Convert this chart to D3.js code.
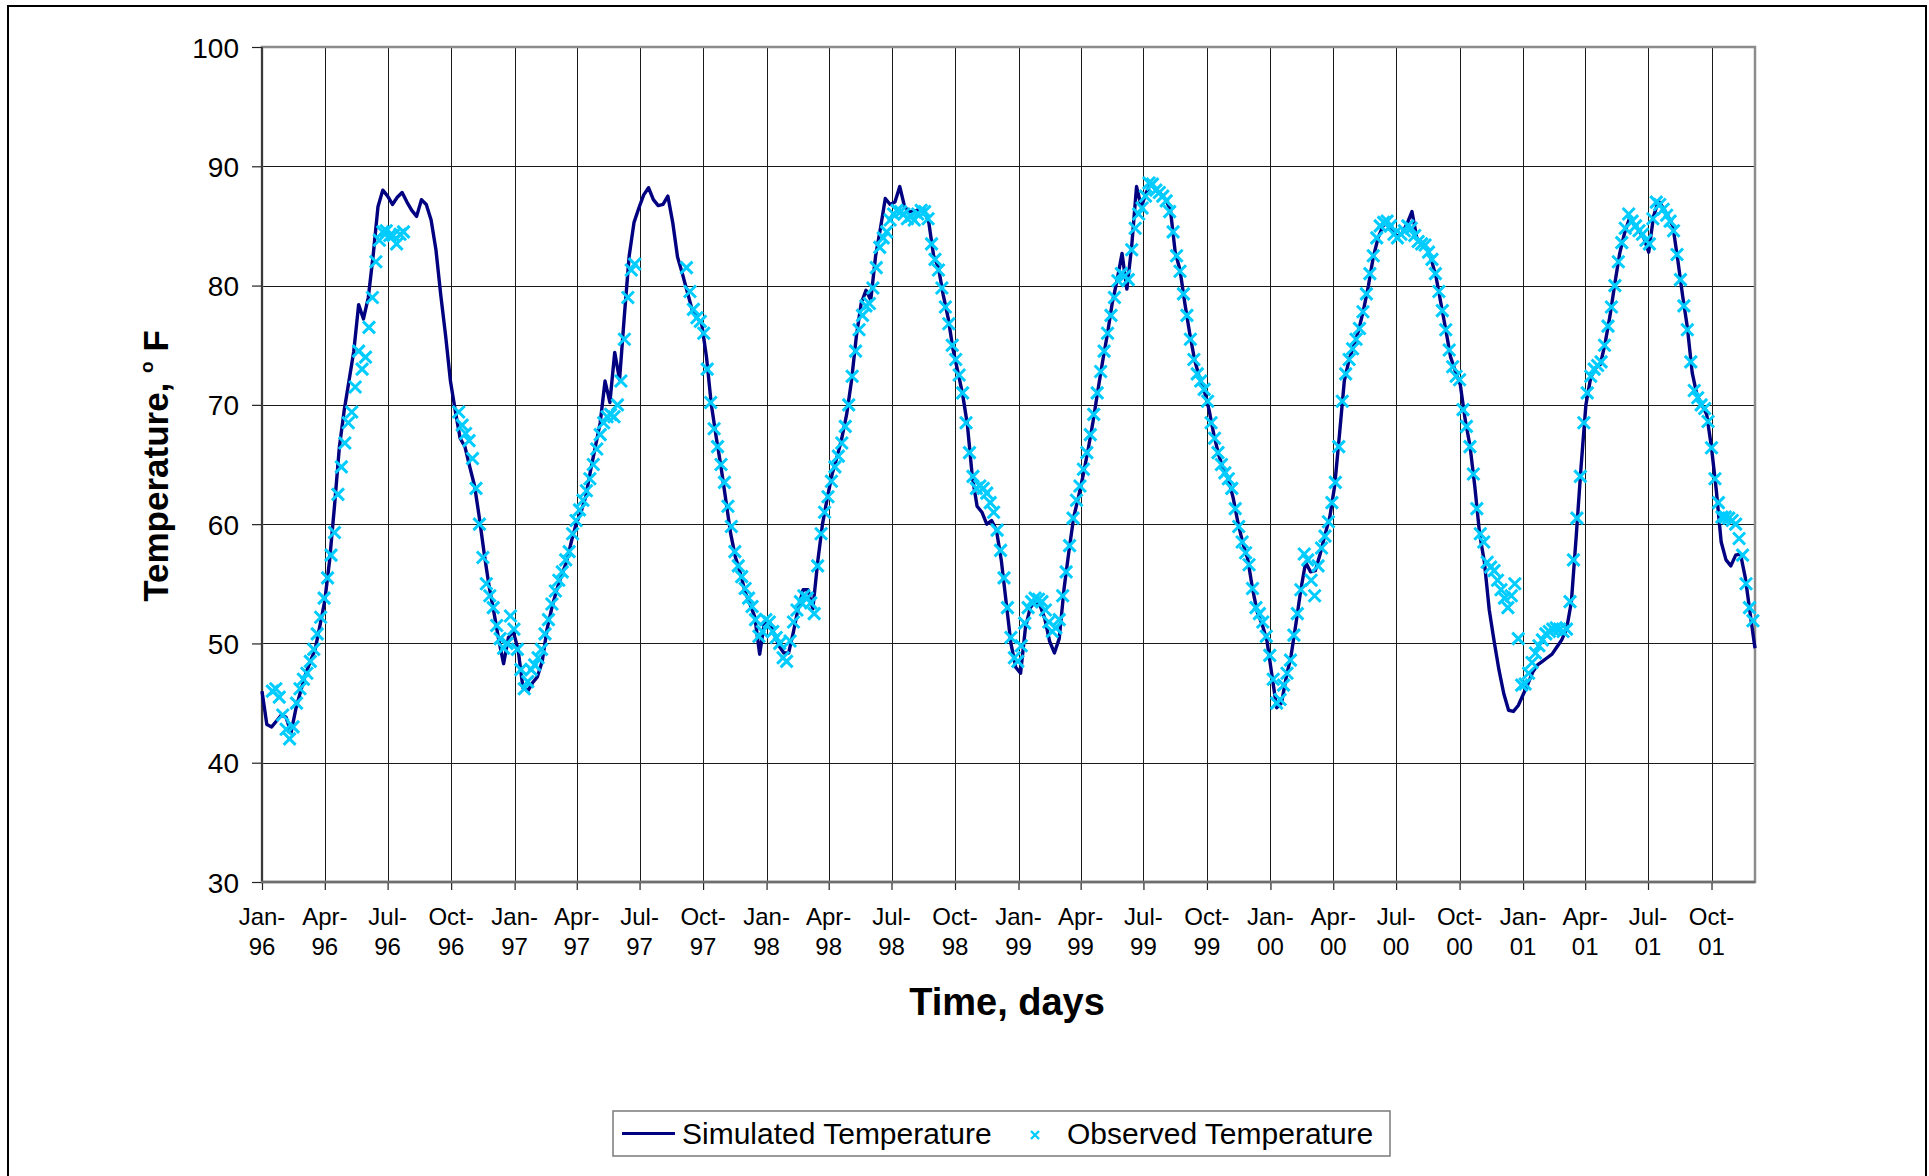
<!DOCTYPE html>
<html><head><meta charset="utf-8">
<script src="https://cdn.jsdelivr.net/npm/d3@7"></script>
<style>
html,body{margin:0;padding:0;background:#fff;overflow:hidden;}
svg{display:block;font-family:"Liberation Sans",Arial,sans-serif;}
</style></head><body>
<svg id="chart" width="1929" height="1176"></svg>
<script>
// ---------------- data ----------------
const startDate = Date.UTC(1996, 0, 1);
const axisEndDay = 2163;               // last day on the time axis (early Dec 2001)
const yTicks = [30, 40, 50, 60, 70, 80, 90, 100];
const monthNames = ["Jan", "Feb", "Mar", "Apr", "May", "Jun", "Jul", "Aug", "Sep", "Oct", "Nov", "Dec"];

// Simulated temperature (°F), one value every 7 days starting 1 Jan 1996
const simStepDays = 7;
const simulated = [
  46, 43.2, 43, 43.5, 44, 43.8, 42.5, 44.5, 46, 47.4,
  48.5, 49.5, 51.5, 53.6, 57, 61.5, 66.4, 69.5, 72, 74.5,
  78.4, 77.2, 79, 82.5, 86.6, 88, 87.5, 86.8, 87.4, 87.8,
  87, 86.3, 85.8, 87.2, 86.8, 85.5, 83, 79.2, 75.8, 72,
  69.5, 67.2, 66.5, 64.8, 63.2, 60.5, 57.5, 54.8, 52.6, 50.3,
  48.3, 50.5, 51, 49.5, 46.3, 46, 46.7, 47.2, 48.5, 51.2,
  53, 54.5, 55.7, 56.8, 58.5, 60, 61, 62.3, 64.5, 66.5,
  68.5, 72, 70.2, 74.4, 72.1, 77.5, 82.5, 85.3, 86.5, 87.6,
  88.2, 87.2, 86.7, 86.8, 87.5, 85.3, 82.4, 81, 79.5, 78,
  77.3, 76.8, 74, 70, 67.3, 64.8, 62, 59.2, 57.2, 55.9,
  54.3, 53.3, 52.2, 49.1, 51.8, 51.8, 50.8, 49.8, 49.2, 49.2,
  51, 53, 54.5, 54.5, 52.9, 56.8, 60, 62.2, 64.2, 65.6,
  67.2, 69.2, 72, 75.7, 78.5, 79.6, 78.8, 82.5, 84.8, 87.3,
  86.8, 87, 88.3, 86.6, 86.2, 86.2, 86.4, 86.4, 85.3, 82.5,
  81.5, 79.2, 77.3, 74.7, 72.8, 70.9, 68.3, 64, 61.5, 61,
  60, 60.3, 59.5, 57, 53.5, 50, 48, 47.5, 51.3, 53,
  53.5, 53.2, 52.1, 50.2, 49.2, 50.4, 54.6, 57.7, 60.6, 62.3,
  64.2, 66.3, 68.6, 71.2, 73.7, 76, 78.6, 80.5, 82.7, 79.7,
  83.3, 88.3, 86.6, 87.8, 88.6, 88, 87.7, 87.2, 86.4, 82.8,
  81.3, 78.5, 76, 73.8, 72.3, 71.2, 69.6, 67.5, 65.8, 64.6,
  63.8, 62.2, 60.1, 58.4, 57.1, 54.6, 52.6, 51.6, 50.2, 47.4,
  44.6, 45, 47.2, 49, 51.7, 54.5, 56.8, 56, 56.1, 57.5,
  59.1, 60.6, 63.2, 67.5, 72, 73.8, 75, 76.3, 78, 80,
  82.4, 84, 85, 85.3, 84.6, 84.1, 84.4, 85.2, 86.2, 84,
  83.5, 83.2, 82.2, 80.7, 78.5, 76.3, 74, 72.8, 71.7, 68.8,
  66.6, 63.2, 59.2, 56.8, 52.8, 50.2, 47.8, 45.8, 44.4, 44.3,
  44.8, 45.7, 46.6, 47.6, 48.2, 48.5, 48.8, 49.1, 49.7, 50.3,
  51.2, 53.5, 59, 64.8, 70, 72.3, 73.1, 73.4, 75.2, 77.5,
  80.2, 82.7, 84.4, 85.6, 85.1, 84.6, 84, 82.8, 85.8, 87.1,
  86.5, 85.8, 85, 82.2, 79.2, 76.5, 72.7, 70.8, 70, 69.2,
  66.4, 62.8, 58.5, 57, 56.5, 57.4, 57.5, 55.5, 52.5, 49.6
];

// Observed temperature (°F), one value every 5 days starting 16 Jan 1996 (null = no data)
const obsStartDay = 15;
const obsStepDays = 5;
const observed = [
  46, 46.2, 45.5, 44, 42.8, 42, 43, 45, 46.2, 47,
  47.5, 48.5, 49.5, 50.8, 52.2, 53.8, 55.5, 57.4, 59.3, 62.5,
  64.8, 66.8, 68.5, 69.4, 71.5, 74.5, 73, 74, 76.5, 79,
  82, 83.8, 84.5, 84.6, 84.2, 84.2, 83.5, 84.3, 84.5, null,
  null, null, null, null, null, null, null, null, null, null,
  null, null, null, null, 69.4, 68.3, 67.6, 67, 65.5, 63,
  60, 57.2, 55, 54, 53, 51.5, 50.4, 49.6, 50, 52.3,
  51.2, 49.5, 47.8, 46.2, 46.8, 47.8, 48.2, 48.8, 49.5, 50.8,
  52, 53.3, 54.4, 55.3, 56, 57, 57.7, 59.2, 60.3, 61.2,
  62, 62.8, 63.8, 65, 66.3, 67.5, 68.5, 69, 69.2, 69,
  70, 72, 75.5, 79, 81.3, 81.8, null, null, null, null,
  null, null, null, null, null, null, null, null, null, null,
  81.5, 79.5, 78, 77.3, 77, 76, 73, 70.2, 68, 66.5,
  65, 63.5, 61.5, 59.8, 57.7, 56.5, 55.6, 54.6, 53.8, 53.1,
  52, 50.6, 51, 52, 51.8, 51, 50.5, 50, 48.8, 48.5,
  50.2, 51.8, 52.8, 53.5, 54, 53.8, 53.4, 52.5, 56.5, 59.2,
  61, 62.3, 63.6, 64.8, 65.7, 66.8, 68.2, 70, 72.4, 74.5,
  76.3, 77.5, 78.3, 78.5, 79.8, 81.5, 83.2, 84, 84.5, 85.5,
  86, 86.3, 86.2, 86, 85.6, 85.8, 85.5, 86, 86.3, 86.2,
  85.6, 83.5, 82.2, 81.3, 79.8, 78.2, 76.8, 75, 73.8, 72.5,
  71, 68.5, 66, 64, 63, 63.2, 63, 62.6, 61.8, 61,
  59.5, 57.8, 55.5, 53, 50.5, 48.8, 48.5, 49.8, 51.7, 53,
  53.5, 53.8, 53.7, 53.5, 52.8, 51.8, 51, 51.3, 52, 54,
  56, 58.2, 60.5, 62, 63.2, 64.6, 66, 67.5, 69.2, 71,
  72.8, 74.5, 76, 77.5, 79, 80.4, 81, 80.8, 80.5, 83,
  84.8, 86, 86.5, 87.5, 88.6, 88.5, 88, 87.8, 87.5, 87.1,
  86.2, 84.5, 82.5, 81.2, 79.3, 77.5, 75.5, 73.8, 72.6, 72,
  71.3, 70.3, 68.5, 67.2, 66, 65, 64.3, 63.8, 63, 61.3,
  59.8, 58.5, 57.6, 56.6, 54.6, 53, 52.5, 51.8, 50.6, 49,
  47, 45, 45.3, 46.5, 47.5, 48.6, 50.7, 52.5, 54.5, 57.5,
  57, 55.3, 54, 56.5, 58, 59, 60.2, 61.8, 63.5, 66.5,
  70.3, 72.6, 73.8, 74.7, 75.5, 76.4, 77.8, 79.3, 81, 82.5,
  84, 85, 85.3, 85.4, 85, 84.3, 84, 84.3, 84.6, 85,
  84.8, 84.2, 83.7, 83.5, 83.4, 82.8, 82.2, 81, 79.5, 77.9,
  76.3, 74.6, 73.2, 72.4, 72.1, 69.6, 68.2, 66.5, 64.2, 61.3,
  59.2, 58.5, 56.8, 56.4, 56.1, 55.3, 54.5, 53.8, 53, 54,
  55, 50.4, 46.5, 46.6, 47.5, 48.4, 49.2, 49.8, 50.3, 50.8,
  51, 51.2, 51.3, 51.2, 51, 51.2, 53.5, 57, 60.5, 64,
  68.5, 71, 72.4, 73, 73.3, 73.6, 75, 76.6, 78.2, 80,
  82, 83.6, 84.8, 86, 85.4, 85, 84.6, 84.3, 83.8, 83.5,
  85.6, 87, 86.8, 86.4, 85.9, 85.4, 84.6, 82.6, 80.5, 78.3,
  76.3, 73.6, 71.2, 70.6, 70, 69.7, 68.6, 66.4, 63.8, 61.8,
  60.6, 60.6, 60.5, 60.3, 60, 58.8, 57.4, 55, 53, 51.9
];

const seriesNames = ["Simulated Temperature", "Observed Temperature"];
const xTitle = "Time, days";

// ---------------- drawing ----------------
const svg = d3.select("#chart");
const W = 1929, H = 1176;
const plot = {left: 262, top: 47, right: 1755, bottom: 882};
const dayMs = 86400000;
const dateOf = d => new Date(startDate + d * dayMs);

const x = d3.scaleUtc().domain([dateOf(0), dateOf(axisEndDay)]).range([plot.left, plot.right]);
const y = d3.scaleLinear().domain([30, 100]).range([plot.bottom, plot.top]);

const simData = simulated.map((v, i) => ({date: dateOf(i * simStepDays), v}));
const obsData = observed.map((v, i) => ({date: dateOf(obsStartDay + i * obsStepDays), v}))
  .filter(d => d.v !== null);
const tickDates = d3.utcMonth.every(3).range(dateOf(0), dateOf(axisEndDay));

svg.append("rect").attr("width", W).attr("height", H).attr("fill", "#fff");
// outer frame
svg.append("rect").attr("x", 8).attr("y", 6).attr("width", 1918).attr("height", 1200)
  .attr("fill", "none").attr("stroke", "#000").attr("stroke-width", 2);

// gridlines
const grid = svg.append("g").attr("shape-rendering", "crispEdges");
grid.selectAll("line.h").data(yTicks.filter(t => t > 30 && t < 100)).join("line")
  .attr("x1", plot.left).attr("x2", plot.right)
  .attr("y1", d => Math.round(y(d)) + 0.5).attr("y2", d => Math.round(y(d)) + 0.5)
  .attr("stroke", "#1a1a1a").attr("stroke-width", 1);
grid.selectAll("line.v").data(tickDates.slice(1)).join("line")
  .attr("y1", plot.top).attr("y2", plot.bottom)
  .attr("x1", d => Math.round(x(d)) + 0.5).attr("x2", d => Math.round(x(d)) + 0.5)
  .attr("stroke", "#1a1a1a").attr("stroke-width", 1);

// plot border (grey)
svg.append("rect").attr("x", plot.left).attr("y", plot.top)
  .attr("width", plot.right - plot.left).attr("height", plot.bottom - plot.top)
  .attr("fill", "none").attr("stroke", "#8c8c8c").attr("stroke-width", 2.5);

// y axis
const yAxis = svg.append("g").attr("transform", `translate(${plot.left},0)`)
  .call(d3.axisLeft(y).tickValues(yTicks).tickSize(10).tickPadding(13).tickFormat(d3.format("d")));
yAxis.select(".domain").remove();
yAxis.selectAll(".tick line").attr("stroke", "#222").attr("stroke-width", 1.2);
yAxis.selectAll(".tick text").attr("font-size", 28).attr("fill", "#000")
  .attr("font-family", "'Liberation Sans', Arial, sans-serif").attr("dy", "0.36em");
svg.append("line").attr("x1", plot.left).attr("x2", plot.left)
  .attr("y1", plot.top).attr("y2", plot.bottom + 1)
  .attr("stroke", "#3a3a3a").attr("stroke-width", 2);

// x axis
const xAxis = svg.append("g").attr("transform", `translate(0,${plot.bottom})`)
  .call(d3.axisBottom(x).tickValues(tickDates).tickSize(8).tickFormat(""));
xAxis.select(".domain").remove();
xAxis.selectAll(".tick line").attr("stroke", "#222").attr("stroke-width", 1.2);
svg.append("line").attr("x1", plot.left - 1).attr("x2", plot.right)
  .attr("y1", plot.bottom).attr("y2", plot.bottom)
  .attr("stroke", "#6e6e6e").attr("stroke-width", 2.5);

const xLabels = svg.append("g").attr("font-size", 24).attr("fill", "#000").attr("text-anchor", "middle");
tickDates.forEach(d => {
  const t = xLabels.append("text").attr("x", x(d));
  t.append("tspan").attr("x", x(d)).attr("y", 925).text(monthNames[d.getUTCMonth()] + "-");
  t.append("tspan").attr("x", x(d)).attr("y", 955).text(d3.utcFormat("%y")(d));
});

// axis titles
svg.append("text").attr("x", 1007).attr("y", 1015).attr("text-anchor", "middle")
  .attr("font-size", 38).attr("font-weight", "bold").text(xTitle);
const yt = svg.append("text").attr("transform", "translate(168,466) rotate(-90)")
  .attr("text-anchor", "middle").attr("font-size", 35).attr("font-weight", "bold");
yt.append("tspan").text("Temperature, ");
yt.append("tspan").attr("font-size", 19).attr("dy", -15).text("o");
yt.append("tspan").attr("dy", 15).text(" F");

// simulated line
const line = d3.line().x(d => x(d.date)).y(d => y(d.v));
svg.append("path").datum(simData).attr("d", line)
  .attr("fill", "none").attr("stroke", "#000080").attr("stroke-width", 3.4)
  .attr("stroke-linejoin", "round");

// observed markers
const cross = "M-6,-6L6,6M-6,6L6,-6";
svg.append("g").selectAll("path").data(obsData).join("path")
  .attr("transform", d => `translate(${x(d.date)},${y(d.v)})`)
  .attr("d", cross).attr("fill", "none").attr("stroke", "#00CCFF").attr("stroke-width", 3);

// legend
const lg = svg.append("g");
lg.append("rect").attr("x", 613).attr("y", 1111).attr("width", 777).attr("height", 45)
  .attr("fill", "#fff").attr("stroke", "#7a7a7a").attr("stroke-width", 1.5);
lg.append("line").attr("x1", 622).attr("x2", 675).attr("y1", 1133.5).attr("y2", 1133.5)
  .attr("stroke", "#000080").attr("stroke-width", 3);
lg.append("text").attr("x", 682).attr("y", 1144).attr("font-size", 30).text(seriesNames[0]);
lg.append("path").attr("transform", "translate(1035,1135)").attr("d", "M-4,-4L4,4M-4,4L4,-4")
  .attr("stroke", "#00CCFF").attr("stroke-width", 2.4).attr("fill", "none");
lg.append("text").attr("x", 1067).attr("y", 1144).attr("font-size", 30).text(seriesNames[1]);
</script>
</body></html>
